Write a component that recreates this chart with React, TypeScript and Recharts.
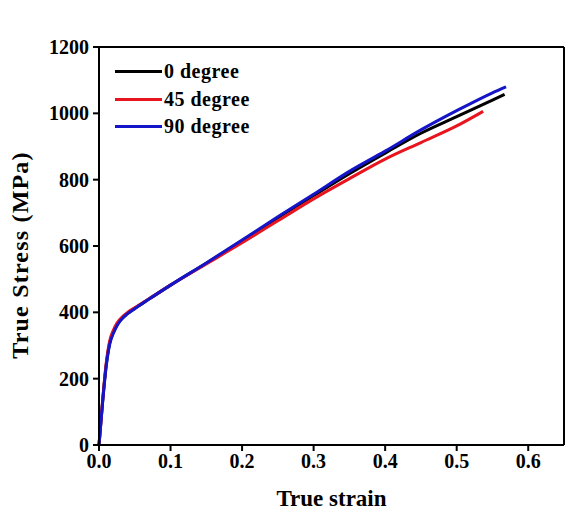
import React from "react";
import { LineChart, Line, XAxis, YAxis, ReferenceLine, Legend } from "recharts";

const strain0 = [0, 0.005, 0.01, 0.015, 0.02, 0.025, 0.03, 0.04, 0.05, 0.07, 0.1, 0.15, 0.2, 0.25, 0.3, 0.35, 0.4, 0.45, 0.5, 0.55, 0.567];
const stress0 = [0, 130, 240, 308, 340, 362, 377, 397, 412, 440, 482, 548, 615, 685, 752, 818, 880, 940, 990, 1040, 1057];

const strain45 = [0, 0.005, 0.01, 0.015, 0.02, 0.025, 0.03, 0.04, 0.05, 0.07, 0.1, 0.15, 0.2, 0.25, 0.3, 0.35, 0.4, 0.45, 0.5, 0.537];
const stress45 = [0, 132, 245, 314, 346, 367, 381, 400, 414, 441, 482, 546, 610, 676, 742, 803, 862, 912, 962, 1006];

const strain90 = [0, 0.005, 0.01, 0.015, 0.02, 0.025, 0.03, 0.04, 0.05, 0.07, 0.1, 0.15, 0.2, 0.25, 0.3, 0.35, 0.4, 0.45, 0.5, 0.55, 0.569];
const stress90 = [0, 128, 236, 304, 336, 359, 375, 396, 411, 440, 482, 549, 618, 688, 756, 825, 886, 950, 1008, 1062, 1080];

const xTicks = [0, 0.1, 0.2, 0.3, 0.4, 0.5, 0.6];
const xMinorTicks = [0.05, 0.15, 0.25, 0.35, 0.45, 0.55];
const yTicks = [0, 200, 400, 600, 800, 1000, 1200];
const yMinorTicks = [100, 300, 500, 700, 900, 1100];

const series = [
  { name: "0 degree", color: "#000000", data: strain0.map((x, i) => ({ x, y: stress0[i] })) },
  { name: "45 degree", color: "#e8141e", data: strain45.map((x, i) => ({ x, y: stress45[i] })) },
  { name: "90 degree", color: "#1414c8", data: strain90.map((x, i) => ({ x, y: stress90[i] })) },
];

const font = "'Liberation Serif', 'Times New Roman', serif";
const tickStyle = { fontFamily: font, fontWeight: 700, fontSize: 20, fill: "#000" };

function LegendBox() {
  return (
    <div style={{ fontFamily: font, fontWeight: 700, fontSize: 20, letterSpacing: 0.5 }}>
      {series.map((s) => (
        <div key={s.name} style={{ display: "flex", alignItems: "center", height: 27.5 }}>
          <span style={{ display: "inline-block", width: 47, height: 3, background: s.color, marginRight: 2 }} />
          <span>{s.name}</span>
        </div>
      ))}
    </div>
  );
}

const YTitle = () => (
  <text
    x={20}
    y={255}
    transform="rotate(-90 20 255)"
    textAnchor="middle"
    dominantBaseline="central"
    style={{ fontFamily: font, fontWeight: 700, fontSize: 24, letterSpacing: 1.2, fill: "#000" }}
  >
    True Stress (MPa)
  </text>
);

export default function App() {
  return (
    <div style={{ position: "absolute", left: 0, top: 0, background: "#fff" }}>
      <LineChart width={565} height={511} margin={{ top: 47, right: 1, left: 0, bottom: 0 }}>
        <XAxis
          xAxisId="minor"
          type="number"
          dataKey="x"
          domain={[0, 0.65]}
          ticks={xMinorTicks}
          tick={false}
          tickSize={4}
          axisLine={false}
          tickLine={{ stroke: "#000", strokeWidth: 2 }}
          height={0}
        />
        <XAxis
          type="number"
          dataKey="x"
          domain={[0, 0.65]}
          ticks={xTicks}
          tickFormatter={(v: number) => v.toFixed(1)}
          tick={tickStyle}
          tickSize={6}
          tickMargin={3}
          axisLine={{ stroke: "#000", strokeWidth: 2 }}
          tickLine={{ stroke: "#000", strokeWidth: 2 }}
          height={66}
          label={{ value: "True strain", position: "insideBottom", offset: 5, style: { fontFamily: font, fontWeight: 700, fontSize: 23, fill: "#000" } }}
        />
        <YAxis
          yAxisId="minor"
          type="number"
          domain={[0, 1200]}
          ticks={yMinorTicks}
          tick={false}
          tickSize={4}
          axisLine={false}
          tickLine={{ stroke: "#000", strokeWidth: 2 }}
          width={0}
        />
        <YAxis
          type="number"
          domain={[0, 1200]}
          ticks={yTicks}
          tick={tickStyle}
          tickSize={6}
          tickMargin={4}
          axisLine={{ stroke: "#000", strokeWidth: 2 }}
          tickLine={{ stroke: "#000", strokeWidth: 2 }}
          width={99}
          label={{ content: YTitle }}
        />
        <ReferenceLine y={1200} stroke="#000" strokeWidth={2} />
        <ReferenceLine x={0.65} stroke="#000" strokeWidth={2} />
        {series.map((s) => (
          <Line
            key={s.name}
            data={s.data}
            dataKey="y"
            name={s.name}
            type="monotone"
            stroke={s.color}
            strokeWidth={3}
            dot={false}
            isAnimationActive={false}
          />
        ))}
        <Legend
          layout="horizontal"
          verticalAlign="middle"
          align="center"
          content={<LegendBox />}
          wrapperStyle={{ left: 115, top: 58, width: 180 }}
        />
      </LineChart>
    </div>
  );
}
